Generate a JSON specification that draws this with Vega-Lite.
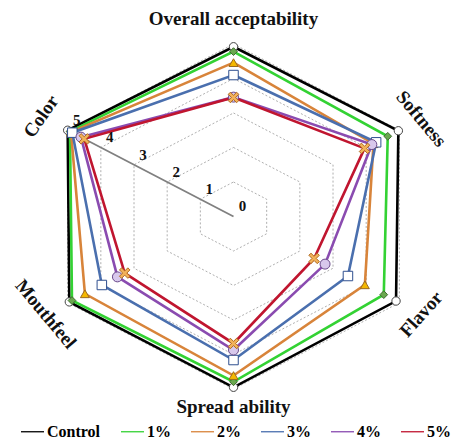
{
  "$schema": "https://vega.github.io/schema/vega-lite/v6.json",
  "width": 455,
  "height": 439,
  "autosize": {"type": "fit", "contains": "padding"},
  "padding": 0,
  "background": "white",
  "config": {"view": {"stroke": null}},
  "datasets": {
    "scores": [
      {"series": "Control", "attr": "Overall acceptability", "value": 4.92},
      {"series": "Control", "attr": "Softness", "value": 4.97},
      {"series": "Control", "attr": "Flavor", "value": 4.9},
      {"series": "Control", "attr": "Spread ability", "value": 4.95},
      {"series": "Control", "attr": "Mouthfeel", "value": 4.95},
      {"series": "Control", "attr": "Color", "value": 5.0},
      {"series": "1%", "attr": "Overall acceptability", "value": 4.78},
      {"series": "1%", "attr": "Softness", "value": 4.65},
      {"series": "1%", "attr": "Flavor", "value": 4.53},
      {"series": "1%", "attr": "Spread ability", "value": 4.79},
      {"series": "1%", "attr": "Mouthfeel", "value": 4.87},
      {"series": "1%", "attr": "Color", "value": 4.93},
      {"series": "2%", "attr": "Overall acceptability", "value": 4.46},
      {"series": "2%", "attr": "Softness", "value": 4.22},
      {"series": "2%", "attr": "Flavor", "value": 3.96},
      {"series": "2%", "attr": "Spread ability", "value": 4.61},
      {"series": "2%", "attr": "Mouthfeel", "value": 4.48},
      {"series": "2%", "attr": "Color", "value": 4.9},
      {"series": "3%", "attr": "Overall acceptability", "value": 4.1},
      {"series": "3%", "attr": "Softness", "value": 4.3},
      {"series": "3%", "attr": "Flavor", "value": 3.45},
      {"series": "3%", "attr": "Spread ability", "value": 4.16},
      {"series": "3%", "attr": "Mouthfeel", "value": 3.97},
      {"series": "3%", "attr": "Color", "value": 4.86},
      {"series": "4%", "attr": "Overall acceptability", "value": 3.46},
      {"series": "4%", "attr": "Softness", "value": 4.17},
      {"series": "4%", "attr": "Flavor", "value": 2.76},
      {"series": "4%", "attr": "Spread ability", "value": 3.87},
      {"series": "4%", "attr": "Mouthfeel", "value": 3.5},
      {"series": "4%", "attr": "Color", "value": 4.6},
      {"series": "5%", "attr": "Overall acceptability", "value": 3.45},
      {"series": "5%", "attr": "Softness", "value": 3.95},
      {"series": "5%", "attr": "Flavor", "value": 2.43},
      {"series": "5%", "attr": "Spread ability", "value": 3.68},
      {"series": "5%", "attr": "Mouthfeel", "value": 3.28},
      {"series": "5%", "attr": "Color", "value": 4.5}
    ],
    "attrs": [
      {"attr": "Overall acceptability", "levels": [1, 2, 3, 4, 5]},
      {"attr": "Softness", "levels": [1, 2, 3, 4, 5]},
      {"attr": "Flavor", "levels": [1, 2, 3, 4, 5]},
      {"attr": "Spread ability", "levels": [1, 2, 3, 4, 5]},
      {"attr": "Mouthfeel", "levels": [1, 2, 3, 4, 5]},
      {"attr": "Color", "levels": [1, 2, 3, 4, 5]}
    ],
    "ticks": [
      {"tick": 0}, {"tick": 1}, {"tick": 2}, {"tick": 3}, {"tick": 4}, {"tick": 5}
    ]
  },
  "layer": [
    {
      "data": {"name": "attrs"},
      "transform": [
        {"flatten": ["levels"], "as": ["level"]},
        {"calculate": "indexof(['Overall acceptability','Softness','Flavor','Spread ability','Mouthfeel','Color'], datum.attr)", "as": "k"},
        {"calculate": "datum.level*cos((90-60*datum.k)*PI/180)", "as": "X"},
        {"calculate": "datum.level*sin((90-60*datum.k)*PI/180)", "as": "Y"}
      ],
      "mark": {"type": "line", "interpolate": "linear-closed", "color": "#9a9a9a", "strokeWidth": 0.8, "strokeDash": [2, 2]},
      "encoding": {
        "x": {"field": "X", "type": "quantitative", "scale": {"domain": [-6.097, 5.783], "nice": false, "zero": false}, "axis": null},
        "y": {"field": "Y", "type": "quantitative", "scale": {"domain": [-6.449, 6.275], "nice": false, "zero": false}, "axis": null},
        "detail": {"field": "level", "type": "nominal"},
        "order": {"field": "k", "type": "quantitative"}
      }
    },
    {
      "data": {"name": "ticks"},
      "transform": [
        {"calculate": "datum.tick*cos(150*PI/180)", "as": "X"},
        {"calculate": "datum.tick*sin(150*PI/180)", "as": "Y"}
      ],
      "mark": {"type": "line", "color": "#808080", "strokeWidth": 1.8},
      "encoding": {
        "x": {"field": "X", "type": "quantitative"},
        "y": {"field": "Y", "type": "quantitative"},
        "order": {"field": "tick", "type": "quantitative"}
      }
    },
    {
      "data": {"name": "scores"},
      "transform": [
        {"calculate": "indexof(['Overall acceptability','Softness','Flavor','Spread ability','Mouthfeel','Color'], datum.attr)", "as": "k"},
        {"calculate": "datum.value*cos((90-60*datum.k)*PI/180)", "as": "X"},
        {"calculate": "datum.value*sin((90-60*datum.k)*PI/180)", "as": "Y"}
      ],
      "mark": {"type": "line", "interpolate": "linear-closed"},
      "encoding": {
        "x": {"field": "X", "type": "quantitative"},
        "y": {"field": "Y", "type": "quantitative"},
        "color": {
          "field": "series", "type": "nominal",
          "scale": {"domain": ["Control", "1%", "2%", "3%", "4%", "5%"], "range": ["#000000", "#33d233", "#d8843a", "#4a6fae", "#8a4bb0", "#c0152f"]},
          "legend": {
            "orient": "none", "legendX": 20, "legendY": 419, "direction": "horizontal", "title": null,
            "labelFont": "Liberation Serif", "labelFontWeight": "bold", "labelFontSize": 16, "labelColor": "#000000",
            "symbolSize": 529, "columnPadding": 17, "labelOffset": 2, "symbolOpacity": 1, "symbolStrokeWidth": 1.3,
            "encoding": {
              "symbols": {
                "shape": {"signal": "datum.value==='1%' ? 'M-1,0H-0.36M0.36,0H1M-0.36,0L0,-0.36L0.36,0L0,0.36Z' : datum.value==='2%' ? 'M-1,0H-0.2M0.2,0H1M-0.36,0.26L0,-0.34L0.36,0.26Z' : datum.value==='3%' ? 'M-1,0H-0.32M0.32,0H1M-0.32,-0.32H0.32V0.32H-0.32Z' : datum.value==='5%' ? 'M-1,0H-0.36M0.36,0H1M-0.36,-0.22L-0.22,-0.36L0,-0.14L0.22,-0.36L0.36,-0.22L0.14,0L0.36,0.22L0.22,0.36L0,0.14L-0.22,0.36L-0.36,0.22L-0.14,0Z' : 'M-1,0H-0.36M0.36,0H1M-0.36,0A0.36,0.36 0 1,1 0.36,0A0.36,0.36 0 1,1 -0.36,0Z'"},
                "fill": {"signal": "scale('fill', datum.value)"},
                "size": {"value": 529},
                "strokeWidth": {"value": 1.3},
                "opacity": {"value": 1}
              }
            }
          }
        },
        "strokeWidth": {"field": "series", "type": "nominal", "scale": {"domain": ["1%", "Control", "2%", "3%", "4%", "5%"], "range": [2.6, 2.6, 2, 2, 2, 2]}, "legend": null},
        "order": {"field": "k", "type": "quantitative"}
      }
    },
    {
      "data": {"name": "scores"},
      "transform": [
        {"calculate": "indexof(['Overall acceptability','Softness','Flavor','Spread ability','Mouthfeel','Color'], datum.attr)", "as": "k"},
        {"calculate": "datum.value*cos((90-60*datum.k)*PI/180)", "as": "X"},
        {"calculate": "datum.value*sin((90-60*datum.k)*PI/180)", "as": "Y"}
      ],
      "mark": {"type": "point", "filled": true, "opacity": 1, "strokeWidth": 1},
      "encoding": {
        "x": {"field": "X", "type": "quantitative"},
        "y": {"field": "Y", "type": "quantitative"},
        "shape": {
          "field": "series", "type": "nominal",
          "scale": {"domain": ["1%", "Control", "2%", "3%", "4%", "5%"], "range": ["diamond", "circle", "triangle-up", "square", "circle", "M-1,-0.6L-0.6,-1L0,-0.4L0.6,-1L1,-0.6L0.4,0L1,0.6L0.6,1L0,0.4L-0.6,1L-1,0.6L-0.4,0Z"]},
          "legend": null
        },
        "fill": {"field": "series", "type": "nominal", "scale": {"domain": ["1%", "Control", "2%", "3%", "4%", "5%"], "range": ["#6aa84f", "#ffffff", "#f5b800", "#ffffff", "#d8c8ec", "#f2b25a"]}, "legend": null},
        "stroke": {"field": "series", "type": "nominal", "scale": {"domain": ["1%", "Control", "2%", "3%", "4%", "5%"], "range": ["#3d6b2e", "#444444", "#9a6a20", "#2f4f8f", "#6a4a8a", "#b06a20"]}, "legend": null},
        "size": {"field": "series", "type": "nominal", "scale": {"domain": ["1%", "Control", "2%", "3%", "4%", "5%"], "range": [60, 110, 75, 75, 70, 80]}, "legend": null}
      }
    },
    {
      "data": {"name": "ticks"},
      "transform": [
        {"calculate": "datum.tick*cos(150*PI/180)", "as": "X"},
        {"calculate": "datum.tick*sin(150*PI/180)", "as": "Y"}
      ],
      "mark": {"type": "text", "font": "Liberation Serif", "fontWeight": "bold", "fontSize": 15, "color": "#111111", "dx": 9, "dy": -10, "align": "center", "baseline": "middle"},
      "encoding": {
        "x": {"field": "X", "type": "quantitative"},
        "y": {"field": "Y", "type": "quantitative"},
        "text": {"field": "tick", "type": "quantitative"}
      }
    },
    {
      "data": {"name": "attrs"},
      "transform": [
        {"calculate": "indexof(['Overall acceptability','Softness','Flavor','Spread ability','Mouthfeel','Color'], datum.attr)", "as": "k"},
        {"calculate": "datum.attr==='Spread ability' ? 5.52 : datum.attr==='Overall acceptability' ? 5.72 : datum.attr==='Color' ? 5.8 : 5.66", "as": "r"},
        {"calculate": "datum.r*cos((90-60*datum.k)*PI/180)", "as": "X"},
        {"calculate": "datum.r*sin((90-60*datum.k)*PI/180)", "as": "Y"}
      ],
      "mark": {"type": "text", "font": "Liberation Serif", "fontWeight": "bold", "fontSize": 19, "color": "#111111", "align": "center", "baseline": "middle"},
      "encoding": {
        "x": {"field": "X", "type": "quantitative"},
        "y": {"field": "Y", "type": "quantitative"},
        "text": {"field": "attr", "type": "nominal"},
        "angle": {
          "condition": [
            {"test": "datum.attr==='Softness' || datum.attr==='Mouthfeel'", "value": 50},
            {"test": "datum.attr==='Flavor'", "value": -48},
            {"test": "datum.attr==='Color'", "value": -55}
          ],
          "value": 0
        }
      }
    }
  ]
}
